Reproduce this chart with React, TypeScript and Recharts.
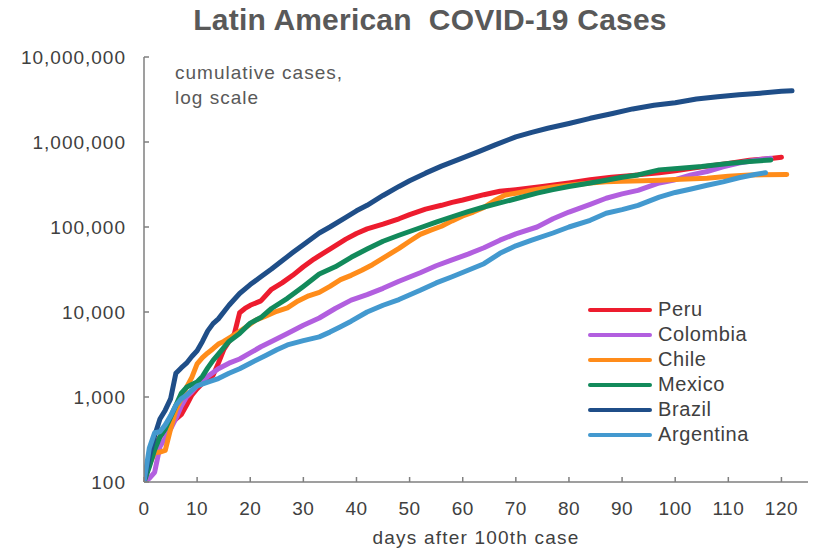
import React from "react";
import { LineChart, Line, XAxis, YAxis, Legend } from "recharts";

// cumulative cases by days after the 100th case: [day, cases]
const peru: [number, number][] = [
  [0, 100], [1, 170], [2, 260], [3, 340], [4, 420], [5, 480], [6, 550], [7, 620], [8, 800], [9, 1050],
  [10, 1250], [11, 1450], [12, 1650], [13, 1800], [14, 2500], [15, 3600], [16, 4500], [17, 5500], [18, 9800],
  [19, 11000], [20, 12000], [22, 13500], [24, 18500], [26, 22000], [28, 27000], [30, 34000], [32, 42000],
  [35, 55000], [38, 72000], [40, 84000], [42, 95000], [45, 108000], [48, 125000], [50, 140000], [53, 162000],
  [56, 180000], [58, 195000], [60, 208000], [64, 240000], [67, 263000], [70, 275000], [75, 300000],
  [80, 330000], [84, 360000], [88, 385000], [92, 405000], [97, 435000], [100, 460000], [105, 510000],
  [110, 560000], [114, 610000], [118, 640000], [120, 660000],
];

const colombia: [number, number][] = [
  [0, 100], [1, 110], [2, 130], [3, 260], [4, 330], [5, 420], [6, 560], [7, 780], [8, 1000], [9, 1150],
  [10, 1350], [11, 1580], [12, 1750], [14, 2150], [16, 2500], [18, 2800], [20, 3300], [22, 3900], [24, 4500],
  [27, 5600], [30, 7000], [33, 8500], [36, 11000], [39, 13800], [42, 16000], [45, 19000], [48, 23000],
  [52, 29000], [55, 35000], [58, 41000], [61, 48000], [64, 57000], [67, 70000], [70, 83000], [74, 100000],
  [77, 125000], [80, 150000], [84, 185000], [87, 218000], [90, 245000], [93, 270000], [97, 330000],
  [100, 360000], [103, 410000], [106, 450000], [109, 510000], [112, 565000], [115, 610000], [118, 645000],
];

const chile: [number, number][] = [
  [0, 100], [1, 160], [2, 220], [3, 225], [4, 235], [5, 420], [6, 700], [7, 950], [8, 1300], [9, 1700],
  [10, 2450], [11, 2900], [12, 3300], [13, 3700], [14, 4200], [15, 4500], [17, 5400], [19, 6500], [21, 8000],
  [23, 9000], [25, 10200], [27, 11200], [29, 13500], [31, 15500], [33, 17000], [35, 20000], [37, 24000],
  [39, 27000], [41, 31000], [43, 36000], [46, 47000], [48, 56000], [50, 68000], [52, 82000], [54, 92000],
  [56, 102000], [58, 118000], [60, 135000], [62, 150000], [64, 170000], [66, 205000], [68, 238000],
  [70, 250000], [73, 270000], [77, 295000], [80, 310000], [84, 330000], [87, 340000], [90, 345000],
  [94, 350000], [97, 355000], [101, 365000], [106, 375000], [110, 395000], [114, 410000], [121, 415000],
];

const mexico: [number, number][] = [
  [0, 100], [1, 150], [2, 240], [3, 340], [4, 420], [5, 580], [6, 800], [7, 1100], [8, 1300], [9, 1400],
  [10, 1500], [11, 1750], [12, 2200], [13, 2700], [14, 3200], [16, 4500], [18, 5600], [20, 7400], [22, 8600],
  [24, 11000], [27, 14500], [30, 20000], [33, 28000], [36, 34000], [39, 44000], [42, 55000], [45, 68000],
  [48, 80000], [52, 98000], [55, 114000], [58, 132000], [61, 152000], [64, 172000], [67, 192000],
  [70, 215000], [74, 250000], [77, 275000], [80, 300000], [84, 330000], [87, 355000], [90, 385000],
  [93, 410000], [97, 470000], [101, 490000], [105, 515000], [110, 560000], [114, 590000], [118, 615000],
];

const brazil: [number, number][] = [
  [0, 100], [1, 200], [2, 350], [3, 550], [4, 700], [5, 950], [6, 1900], [7, 2200], [8, 2500], [9, 3000],
  [10, 3500], [11, 4500], [12, 6000], [13, 7300], [14, 8300], [16, 12000], [18, 16500], [20, 21000],
  [22, 26000], [24, 32000], [26, 40000], [28, 50000], [30, 62000], [33, 85000], [35, 100000], [38, 130000],
  [40, 155000], [42, 180000], [45, 235000], [48, 300000], [50, 350000], [53, 430000], [56, 520000],
  [60, 650000], [63, 770000], [66, 920000], [70, 1150000], [73, 1300000], [76, 1450000], [80, 1650000],
  [84, 1900000], [88, 2150000], [92, 2450000], [96, 2700000], [100, 2900000], [104, 3200000],
  [108, 3400000], [112, 3600000], [116, 3750000], [120, 3950000], [122, 4000000],
];

const argentina: [number, number][] = [
  [0, 100], [1, 250], [2, 380], [3, 390], [4, 470], [5, 600], [6, 800], [7, 950], [8, 1050], [9, 1200],
  [10, 1350], [12, 1500], [14, 1650], [16, 1900], [18, 2150], [20, 2500], [23, 3100], [25, 3600], [27, 4100],
  [30, 4600], [33, 5100], [35, 5800], [37, 6700], [39, 7800], [42, 10000], [45, 12000], [48, 14000],
  [52, 18000], [55, 22000], [58, 26000], [61, 31000], [64, 37000], [67, 49000], [70, 60000], [73, 70000],
  [77, 85000], [80, 100000], [84, 120000], [87, 145000], [90, 160000], [93, 180000], [97, 225000],
  [100, 255000], [103, 280000], [106, 310000], [109, 340000], [112, 380000], [115, 415000], [117, 435000],
];

const xTicks = [0, 10, 20, 30, 40, 50, 60, 70, 80, 90, 100, 110, 120];
const yTicks = [100, 1000, 10000, 100000, 1000000, 10000000];

const series = [
  { name: "Peru", color: "#ED1C2E", points: peru },
  { name: "Colombia", color: "#B25FDF", points: colombia },
  { name: "Chile", color: "#FF8C1A", points: chile },
  { name: "Mexico", color: "#128A5B", points: mexico },
  { name: "Brazil", color: "#1F4E88", points: brazil },
  { name: "Argentina", color: "#4399CF", points: argentina },
];

const FONT = '"Liberation Sans", Arial, sans-serif';
const AXIS = "#7f7f7f";
const TEXT = "#404040";

const YTick = (props: any) => {
  const { x, y, payload } = props;
  return (
    <g>
      <line x1={x} x2={x + 5} y1={y} y2={y} stroke={AXIS} strokeWidth={1.5} />
      <text x={x - 18} y={y} dy={7} textAnchor="end" fill={TEXT} fontSize={19} fontFamily={FONT} letterSpacing={1}>
        {payload.value.toLocaleString("en-US")}
      </text>
    </g>
  );
};

const XTick = (props: any) => {
  const { x, y, payload } = props;
  return (
    <g>
      <line x1={x} x2={x} y1={y} y2={y - 5} stroke={AXIS} strokeWidth={1.5} />
      <text x={x} y={y} dy={33} textAnchor="middle" fill={TEXT} fontSize={19} fontFamily={FONT} letterSpacing={0.5}>
        {payload.value}
      </text>
    </g>
  );
};

const renderLegend = () => (
  <div style={{ fontFamily: FONT }}>
    {series.map((s) => (
      <div key={s.name} style={{ display: "flex", alignItems: "center", height: 25 }}>
        <span style={{ display: "inline-block", width: 64, height: 4, borderRadius: 2, background: s.color }} />
        <span style={{ marginLeft: 6, fontSize: 20, color: TEXT, letterSpacing: 0.6 }}>{s.name}</span>
      </div>
    ))}
  </div>
);

export default function App() {
  return (
    <div style={{ position: "absolute", left: 0, top: 0, width: 813, height: 550, background: "#fff", fontFamily: FONT }}>
      <div
        style={{
          position: "absolute", left: 0, top: 3, width: 860, textAlign: "center",
          fontSize: 30, fontWeight: "bold", color: "#595959", whiteSpace: "pre", letterSpacing: 0.2,
        }}
      >
        {"Latin American  COVID-19 Cases"}
      </div>
      <div style={{ position: "absolute", left: 175, top: 60, fontSize: 19, lineHeight: "25px", color: "#595959", letterSpacing: 1 }}>
        cumulative cases,
        <br />
        log scale
      </div>
      <LineChart width={813} height={550} margin={{ top: 57, right: 5, bottom: 0, left: 0 }}>
        <XAxis
          type="number"
          dataKey="day"
          domain={[0, 125]}
          ticks={xTicks}
          allowDataOverflow
          tickSize={0}
          tickMargin={0}
          tickLine={false}
          tick={<XTick />}
          height={68}
          axisLine={{ stroke: AXIS, strokeWidth: 1.5 }}
          label={{ value: "days after 100th case", position: "insideBottom", offset: 6, fill: TEXT, fontSize: 19, fontFamily: FONT, letterSpacing: 1.2 }}
        />
        <YAxis
          type="number"
          dataKey="cases"
          scale="log"
          domain={[100, 10000000]}
          ticks={yTicks}
          allowDataOverflow
          width={144}
          tickSize={0}
          tickMargin={0}
          tickLine={false}
          tick={<YTick />}
          axisLine={{ stroke: AXIS, strokeWidth: 1.5 }}
        />
        <Legend
          layout="vertical"
          align="center"
          verticalAlign="middle"
          content={renderLegend}
          wrapperStyle={{ left: 588, top: 297, width: 220 }}
        />
        {series.map((s) => (
          <Line
            key={s.name}
            name={s.name}
            data={s.points.map(([day, cases]) => ({ day, cases }))}
            dataKey="cases"
            stroke={s.color}
            strokeWidth={5}
            strokeLinecap="round"
            strokeLinejoin="round"
            dot={false}
            activeDot={false}
            isAnimationActive={false}
          />
        ))}
      </LineChart>
    </div>
  );
}
